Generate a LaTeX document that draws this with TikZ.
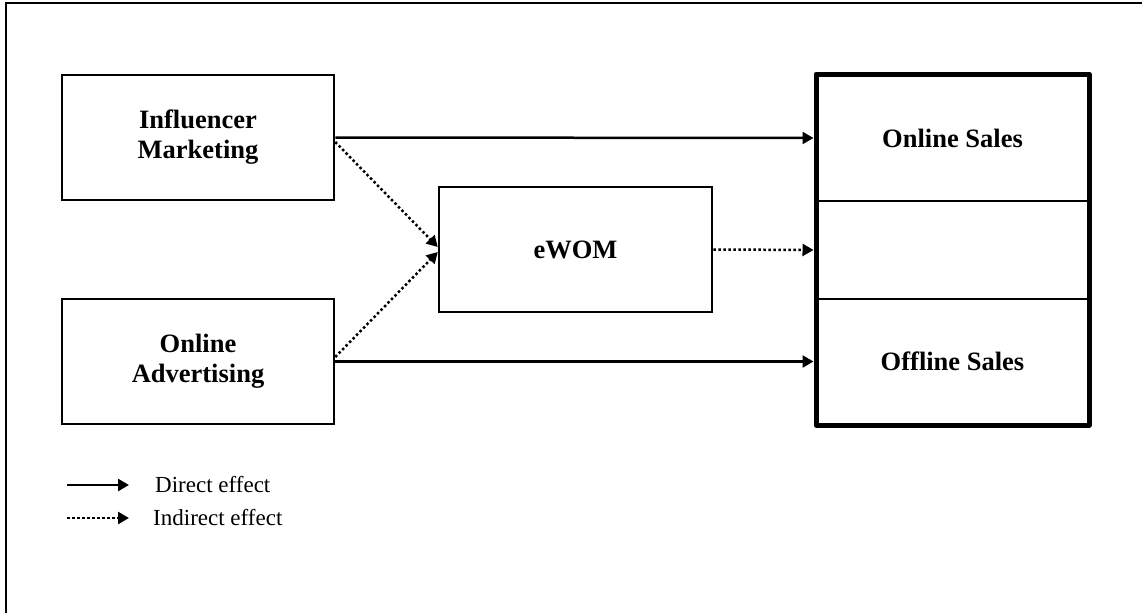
\documentclass[tikz,border=0pt]{standalone}
\usepackage{fontspec}
\setmainfont{Liberation Serif}
\usetikzlibrary{arrows.meta}

\tikzset{
  box/.style={draw, line width=2.5pt, rectangle, align=center, inner sep=0pt,
    font=\fontsize{26.5}{30}\selectfont\bfseries},
  salesbox/.style={draw, line width=2pt, rectangle, inner sep=0pt,
    minimum width=271pt, font=\fontsize{26.5}{30}\selectfont\bfseries},
  direct/.style={line width=2.5pt, -{Triangle[length=11pt,width=12pt]}},
  indirect/.style={line width=2.5pt, dash pattern=on 2.5pt off 2.5pt,
    -{Triangle[length=11pt,width=12pt]}},
  legendtext/.style={anchor=west, inner sep=0pt, font=\fontsize{23}{27}\selectfont}
}

\begin{document}
\begin{tikzpicture}[x=1pt, y=-1pt]
  \useasboundingbox (0,0) rectangle (1142,613);

  % page frame (top and left edges)
  \draw[line width=2.8pt] (6,613) -- (6,3) -- (1142,3);

  % predictors and mediator
  \node[box, minimum width=272pt, minimum height=125pt] (infl) at (198,137.5)
    {Influencer\\Marketing};
  \node[box, minimum width=272pt, minimum height=125pt] (adv) at (198,361.5)
    {Online\\Advertising};
  \node[box, minimum width=273pt, minimum height=125pt] (ewom) at (575.5,249.5)
    {eWOM};

  % outcome block with three sections
  \node[salesbox, minimum height=126pt] (online) at (952.5,138) {Online Sales};
  \node[salesbox, minimum height=98pt] (mid) at (952.5,250) {};
  \node[salesbox, minimum height=125pt] (offline) at (952.5,361.5) {Offline Sales};
  \draw[line width=5pt, line join=round] (online.north west) rectangle (offline.south east);

  % direct effects
  \draw[direct, shorten >=2.5pt] (infl.east) -- (online.west);
  \draw[direct, shorten >=2.5pt] (adv.east) -- (offline.west);

  % indirect effects
  \draw[indirect] ([yshift=-4.5pt]infl.east) -- ([yshift=2.5pt]ewom.west);
  \draw[indirect] ([yshift=4.5pt]adv.east) -- ([yshift=-2.5pt]ewom.west);
  \draw[indirect, shorten >=2.5pt] (ewom.east) -- (mid.west);

  % legend
  \coordinate (l1a) at (67,485);
  \coordinate (l1b) at (129,485);
  \coordinate (l2a) at (67,518);
  \coordinate (l2b) at (129,518);
  \draw[direct] (l1a) -- (l1b);
  \draw[indirect] (l2a) -- (l2b);
  \node[legendtext] (ldirect) at (155,485) {Direct effect};
  \node[legendtext] (lindirect) at (153,518) {Indirect effect};
\end{tikzpicture}
\end{document}
